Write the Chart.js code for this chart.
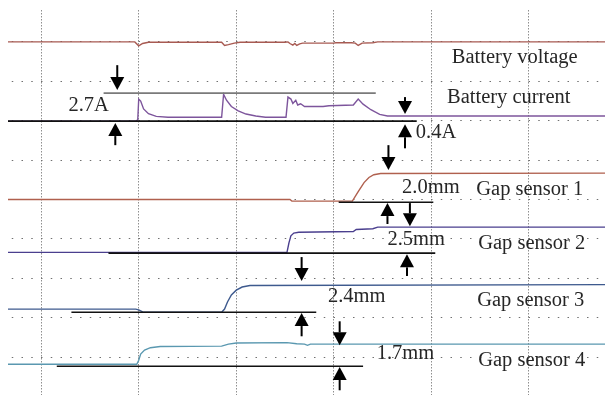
<!DOCTYPE html>
<html>
<head>
<meta charset="utf-8">
<script src="https://cdn.jsdelivr.net/npm/chart.js@4.4.1/dist/chart.umd.min.js"></script>
<style>
  html, body { margin: 0; padding: 0; background: #fff; }
  #wrap { width: 605px; height: 396px; position: relative; }
</style>
</head>
<body>
<div id="wrap"><canvas id="scope"></canvas></div>
<script>
// time in 1/100 division, level in 1/100 division (scope screen units)
const timeTicks = [0, 100, 200, 300, 400, 500];
const levelTicks = [0, 100, 200, 300, 400, 500, 600, 700, 800];

const batteryVoltage = [[-34,800],[96,800],[100,790],[104,796],[110,799],[185,799],[188,791],[192,793],[198,797],[204,799],[250,799],[253,800],[255,796],[258,792],[260,796],[262,791],[265,795],[268,797],[300,797],[302,798],[318,798],[322,797],[325,791],[329,797],[340,798],[345,800],[578,800]];
const batteryCurrent = [[-34,599],[97,599],[99,602],[100,655],[102,650],[105,630],[110,618],[118,611],[130,609],[185,609],[187,667],[190,652],[195,636],[202,625],[210,617],[220,612],[230,609],[251,609],[253,660],[256,655],[258,644],[261,652],[263,640],[266,643],[270,636],[289,636],[295,638],[320,640],[325,655],[330,642],[338,628],[347,616],[355,612],[578,612]];
const gapSensor1 = [[-34,400],[255,400],[257,396],[319,396],[325,420],[331,443],[336,456],[341,463],[348,466],[578,467]];
const gapSensor2 = [[-34,266],[252,266],[254,290],[256,308],[259,315],[264,317],[320,319],[323,324],[340,326],[345,330],[578,330]];
const gapSensor3 = [[-34,122],[97,122],[100,120],[104,115],[185,114],[188,122],[191,140],[195,158],[200,170],[206,178],[214,182],[578,184]];
const gapSensor4 = [[-34,-18],[98,-18],[100,-8],[102,8],[106,18],[112,24],[122,27],[185,28],[192,33],[200,36],[252,37],[262,34],[270,33],[273,30],[276,33],[578,33]];

// reference lines: [xStart, xEnd, level]
const refLines = [[64,343,670],[-34,385,599],[305,402,393],[69,404,264],[31,282,114],[16,330,-23]];
const refColors = ['#7a7a7a','#111','#111','#111','#111','#111'];

// arrows: [x, tailLevel, tipLevel]
const arrows = [[78,741,678],[76,538,594],[373,660,617],[373,530,591],[356,538,475],[355,338,391],[378,391,332],[375,206,261],[267,254,193],[267,53,112],[306,91,30],[306,-84,-25]];

// labels: [text, x, baseline level]
const labels = [
  ['Battery voltage', 421, 746], ['Battery current', 416, 645],
  ['2.7A', 28, 624], ['0.4A', 384, 556],
  ['2.0mm', 370, 416], ['Gap sensor 1', 446, 411],
  ['2.5mm', 355, 284], ['Gap sensor 2', 448, 274],
  ['2.4mm', 294, 140], ['Gap sensor 3', 447, 129],
  ['1.7mm', 344, -5], ['Gap sensor 4', 448, -23]
];

const toPts = arr => arr.map(p => ({ x: p[0], y: p[1] }));

const traces = [
  { data: batteryVoltage, color: '#a85a52' },
  { data: batteryCurrent, color: '#7d559c' },
  { data: gapSensor1, color: '#b0604e' },
  { data: gapSensor2, color: '#4a3f8e' },
  { data: gapSensor3, color: '#3e5a8e' },
  { data: gapSensor4, color: '#5a98b0' }
];

const datasets = [];
refLines.forEach((r, i) => {
  datasets.push({
    data: [{ x: r[0], y: r[2] }, { x: r[1], y: r[2] }],
    borderColor: refColors[i], borderWidth: 1.6, pointRadius: 0, order: 1
  });
});
traces.forEach(t => {
  datasets.push({
    data: toPts(t.data), borderColor: t.color, borderWidth: 1.4,
    pointRadius: 0, tension: 0, order: 2
  });
});

const annotate = {
  id: 'annotate',
  afterDatasetsDraw(chart) {
    const ctx = chart.ctx;
    const xs = chart.scales.x, ys = chart.scales.y;
    ctx.save();
    ctx.strokeStyle = '#000';
    ctx.fillStyle = '#000';
    ctx.lineWidth = 2;
    arrows.forEach(a => {
      const x = xs.getPixelForValue(a[0]);
      const yTail = ys.getPixelForValue(a[1]);
      const yTip = ys.getPixelForValue(a[2]);
      const dir = yTip > yTail ? 1 : -1;
      const headLen = 13, headHalf = 7;
      ctx.beginPath();
      ctx.moveTo(x, yTail);
      ctx.lineTo(x, yTip - dir * headLen);
      ctx.stroke();
      ctx.beginPath();
      ctx.moveTo(x, yTip);
      ctx.lineTo(x - headHalf, yTip - dir * headLen);
      ctx.lineTo(x + headHalf, yTip - dir * headLen);
      ctx.closePath();
      ctx.fill();
    });
    ctx.fillStyle = '#262626';
    ctx.font = '20.5px "Liberation Serif", "Times New Roman", serif';
    ctx.textBaseline = 'alphabetic';
    labels.forEach(l => {
      ctx.fillText(l[0], xs.getPixelForValue(l[1]), ys.getPixelForValue(l[2]));
    });
    ctx.restore();
  }
};

new Chart(document.getElementById('scope').getContext('2d'), {
  type: 'line',
  data: { datasets: datasets },
  options: {
    responsive: true,
    maintainAspectRatio: false,
    animation: false,
    layout: { padding: { left: 8, top: 10, right: 0, bottom: 1 } },
    plugins: { legend: { display: false }, tooltip: { enabled: false } },
    scales: {
      x: {
        type: 'linear', min: -34, max: 578,
        afterBuildTicks: s => { s.ticks = timeTicks.map(v => ({ value: v })); },
        ticks: { display: false },
        grid: { color: '#8f8f8f', drawTicks: false, lineWidth: 1 },
        border: { display: false, dash: [1.5, 1.5] }
      },
      y: {
        type: 'linear', min: -96, max: 881,
        afterBuildTicks: s => { s.ticks = levelTicks.map(v => ({ value: v })); },
        ticks: { display: false },
        grid: { color: '#707070', drawTicks: false, lineWidth: 1 },
        border: { display: false, dash: [1.5, 8.25], dashOffset: 6 }
      }
    }
  },
  plugins: [annotate]
});
</script>
</body>
</html>
